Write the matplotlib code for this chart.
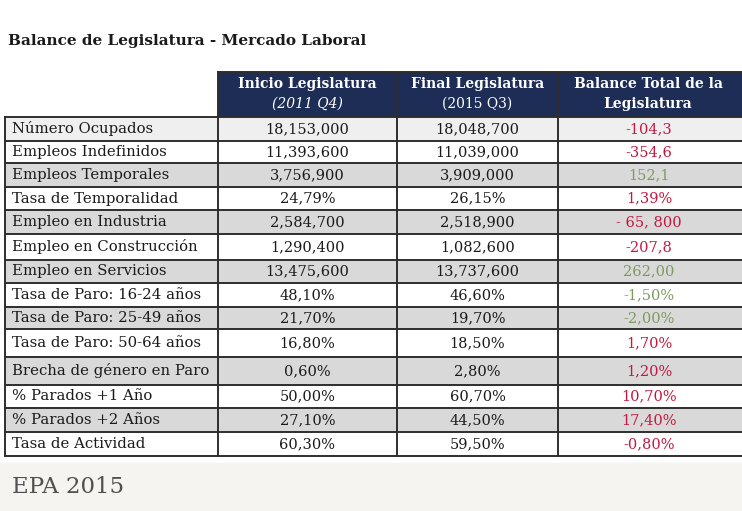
#!/usr/bin/env python3

import matplotlib
matplotlib.use("Agg")
import matplotlib.pyplot as plt
from matplotlib.patches import Rectangle

title = "Balance de Legislatura - Mercado Laboral"
caption = "EPA 2015"

col_headers = [("Inicio Legislatura", "(2011 Q4)"),
               ("Final Legislatura", "(2015 Q3)"),
               ("Balance Total de la", "Legislatura")]

indicators = ["Número Ocupados", "Empleos Indefinidos", "Empleos Temporales",
              "Tasa de Temporalidad", "Empleo en Industria", "Empleo en Construcción",
              "Empleo en Servicios", "Tasa de Paro: 16-24 años", "Tasa de Paro: 25-49 años",
              "Tasa de Paro: 50-64 años", "Brecha de género en Paro", "% Parados +1 Año",
              "% Parados +2 Años", "Tasa de Actividad"]

inicio = ["18,153,000", "11,393,600", "3,756,900", "24,79%", "2,584,700", "1,290,400",
          "13,475,600", "48,10%", "21,70%", "16,80%", "0,60%", "50,00%", "27,10%", "60,30%"]

final = ["18,048,700", "11,039,000", "3,909,000", "26,15%", "2,518,900", "1,082,600",
         "13,737,600", "46,60%", "19,70%", "18,50%", "2,80%", "60,70%", "44,50%", "59,50%"]

balance = ["-104,3", "-354,6", "152,1", "1,39%", "- 65, 800", "-207,8", "262,00",
           "-1,50%", "-2,00%", "1,70%", "1,20%", "10,70%", "17,40%", "-0,80%"]

# favourable change (green) or not (red)
favorable = [False, False, True, False, False, False, True,
             True, True, False, False, False, False, False]

# ---- layout (pixels) ----
W, H = 742, 511
col_x = [5, 218, 397, 558, 742]
row_y = [117, 141, 163, 187, 210, 234, 260, 283, 307, 329, 357, 385, 408, 432, 456]
header_top = 72
navy = "#1d2d55"
grey = "#d9d9d9"
red = "#c3183f"
green = "#7d9b5f"
line = "#2e2e2e"
serif = "DejaVu Serif"

fig = plt.figure(figsize=(W / 100, H / 100), dpi=100)
ax = fig.add_axes([0, 0, 1, 1])
ax.set_xlim(0, W)
ax.set_ylim(H, 0)
ax.axis("off")

# caption band
ax.add_patch(Rectangle((0, 463), W, H - 463, color="#f5f4f0", zorder=0))
ax.text(12, 487, caption, fontsize=16.5, family=serif, color="#505050", va="center")

ax.text(8, 41, title, fontsize=11, family=serif, weight="bold", color="#1a1a1a", va="center")

# header
ax.add_patch(Rectangle((col_x[1], header_top), col_x[4] - col_x[1], row_y[0] - header_top,
                       color=navy, zorder=1))
for i, (l1, l2) in enumerate(col_headers):
    cx = (col_x[i + 1] + col_x[i + 2]) / 2
    if i == 2:
        cx -= 2
    ax.text(cx, 84, l1, fontsize=10, family=serif, weight="bold", color="white",
            ha="center", va="center", zorder=3)
    ax.text(cx, 104, l2, fontsize=10, family=serif, color="white",
            weight="bold" if i == 2 else "normal", style="italic" if i == 0 else "normal",
            ha="center", va="center", zorder=3)

# rows
for r in range(len(indicators)):
    y0, y1 = row_y[r], row_y[r + 1]
    yc = (y0 + y1) / 2
    if r == 0:
        fill = "#efefef"
    elif r in [2, 4, 6, 8, 10, 12]:
        fill = grey
    else:
        fill = "white"
    ax.add_patch(Rectangle((col_x[0], y0), col_x[4] - col_x[0], y1 - y0, color=fill, zorder=1))
    ax.text(col_x[0] + 7, yc, indicators[r], fontsize=10.7, family=serif, color="#1a1a1a",
            va="center", zorder=3)
    ax.text((col_x[1] + col_x[2]) / 2, yc, inicio[r], fontsize=10.5, family=serif,
            color="#1a1a1a", ha="center", va="center", zorder=3)
    ax.text((col_x[2] + col_x[3]) / 2, yc, final[r], fontsize=10.5, family=serif,
            color="#1a1a1a", ha="center", va="center", zorder=3)
    ax.text(649, yc, balance[r], fontsize=10.5, family=serif,
            color=green if favorable[r] else red, ha="center", va="center", zorder=3)

# grid lines
for y in row_y:
    ax.plot([col_x[0], col_x[4]], [y, y], color=line, lw=1.4, zorder=2)
for x in col_x[:4]:
    top = row_y[0] if x == col_x[0] else header_top
    ax.plot([x, x], [top, row_y[-1]], color=line, lw=1.4, zorder=2)
ax.plot([col_x[1], col_x[4]], [header_top, header_top], color=line, lw=1.4, zorder=2)

fig.savefig("out.png", dpi=100)
